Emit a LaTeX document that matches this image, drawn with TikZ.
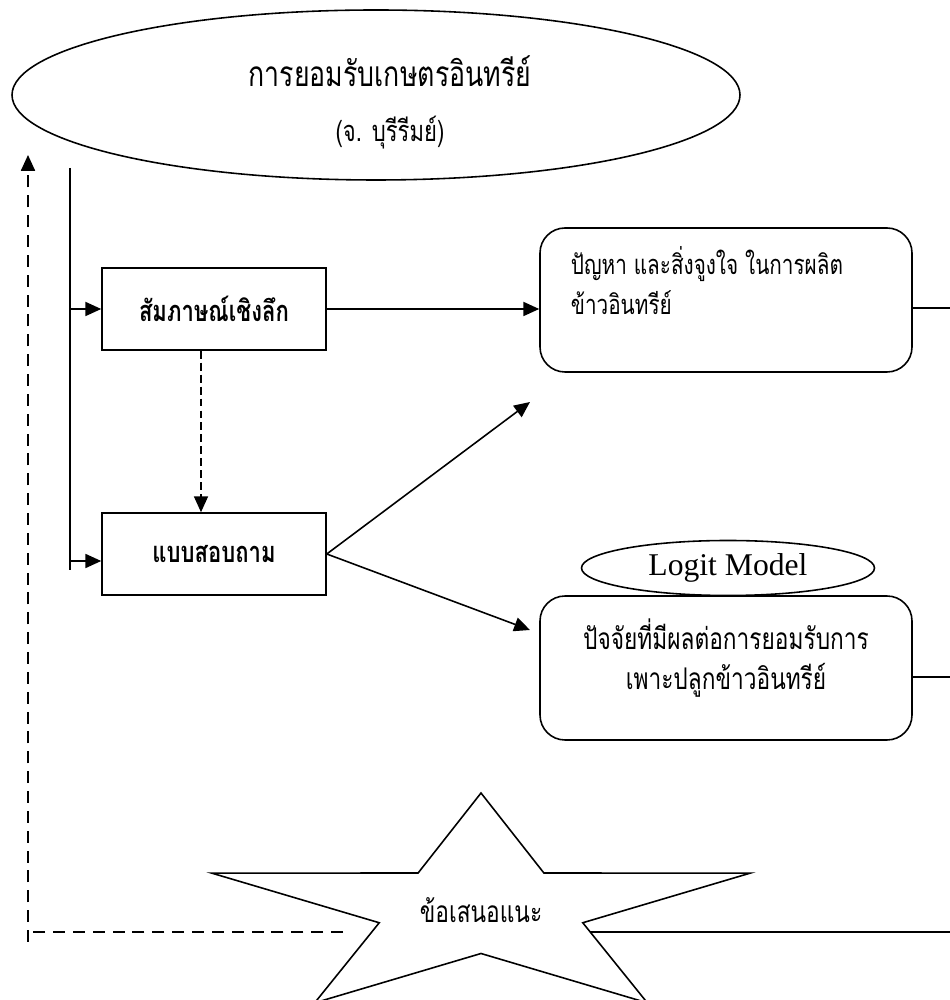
\documentclass[tikz,border=0pt]{standalone}
\usepackage{fontspec}
\setmainfont{Liberation Serif}
\newfontfamily\thaifont[Script=Thai,FakeStretch=0.76]{Loma}
\usetikzlibrary{arrows.meta,shapes.geometric}

\begin{document}
\begin{tikzpicture}[
  >={Triangle[length=9pt,width=8pt]},
  line width=0.9pt,
  box/.style={draw,minimum width=4.48cm,minimum height=1.64cm,font=\thaifont\bfseries\fontsize{16.5}{18}\selectfont},
  roundbox/.style={draw,rounded corners=0.5cm,minimum width=7.44cm,minimum height=2.88cm},
  oval/.style={draw,ellipse,inner sep=0pt},
  thai/.style={font=\thaifont\fontsize{15.5}{22.5}\selectfont},
  longdash/.style={dash pattern=on 6.8pt off 4.5pt},
  shortdash/.style={dash pattern=on 4.5pt off 2.3pt,line width=0.7pt}
  ]
%\draw [ultra thin, lightgray] (0,0) grid (19,20);
\useasboundingbox (0,0) rectangle (19,20);
\node [oval,minimum width=14.56cm,minimum height=3.4cm] (goal) at (7.52,18.1) {};
\node [align=center,font=\thaifont\fontsize{20}{31}\selectfont] (goaltext) at (7.8,17.95)
  {การยอมรับเกษตรอินทรีย์\\{\fontsize{16.5}{16}\selectfont (จ. บุรีรีมย์)}};
\node [box] (interview) at (4.28,13.82) {สัมภาษณ์เชิงลึก};
\node [box] (survey) at (4.28,8.92) {แบบสอบถาม};
\node [roundbox] (problem) at (14.52,14) {};
\node [thai,anchor=north west,align=left] (problemtext) at ([shift={(0.5,-0.26)}]problem.north west)
  {ปัญหา และสิ่งจูงใจ ในการผลิต\\ข้าวอินทรีย์};
\node [roundbox] (factor) at (14.52,6.64) {};
\node [thai,align=center,font=\thaifont\fontsize{17}{22.5}\selectfont] (factortext) at ([yshift=0.2cm]factor)
  {ปัจจัยที่มีผลต่อการยอมรับการ\\เพาะปลูกข้าวอินทรีย์};
\node [oval,minimum width=5.86cm,minimum height=1.1cm,font=\fontsize{18}{20}\selectfont] (logit) at (14.56,8.64) {Logit Model};
\node [font=\thaifont\fontsize{17}{18}\selectfont] (advice) at (9.62,1.8) {ข้อเสนอแนะ};
\draw [shift={(9.62,1.82)}] (90:5.66 and 2.32) -- (126:2.14 and 0.89) -- (162:5.66 and 2.32)
  -- (198:2.14 and 0.89) -- (234:5.66 and 2.32) -- (270:2.14 and 0.89) -- (306:5.66 and 2.32)
  -- (342:2.14 and 0.89) -- (18:5.66 and 2.32) -- (54:2.14 and 0.89) -- cycle;
% coordinates
\coordinate (trunktop) at (1.4,16.64);
\coordinate (trunkbot) at (1.4,8.6);
\coordinate (upin) at (10.6,11.96);
\coordinate (downin) at (10.6,7.4);
\coordinate (fbstart) at (6.86,1.36);
\coordinate (fbcorner) at (0.56,1.36);
\coordinate (fbtop) at (0.56,16.9);
\coordinate (advout) at (11.8,1.36);
% lines
\draw (trunktop) -- (trunkbot);
\draw [->] (trunktop |- interview.west) -- (interview.west);
\draw [->] ([yshift=-0.14cm]trunktop |- survey.west) -- ([yshift=-0.14cm]survey.west);
\draw [->,shortdash] ([xshift=-0.26cm]interview.south) -- ([xshift=-0.26cm]survey.north);
\draw [->] (interview.east) -- (interview.east -| problem.west);
\draw [->] (survey.east) -- (upin);
\draw [->] (survey.east) -- (downin);
\draw ([yshift=-0.16cm]problem.east) -- ++(1,0);
\draw ([yshift=-0.18cm]factor.east) -- ++(1,0);
\draw (advout) -- ++(8,0);
\draw [longdash] (fbstart) -- (fbcorner);
\draw [->,longdash] ([yshift=-0.2cm]fbcorner) -- (fbtop);
\end{tikzpicture}
\end{document}
